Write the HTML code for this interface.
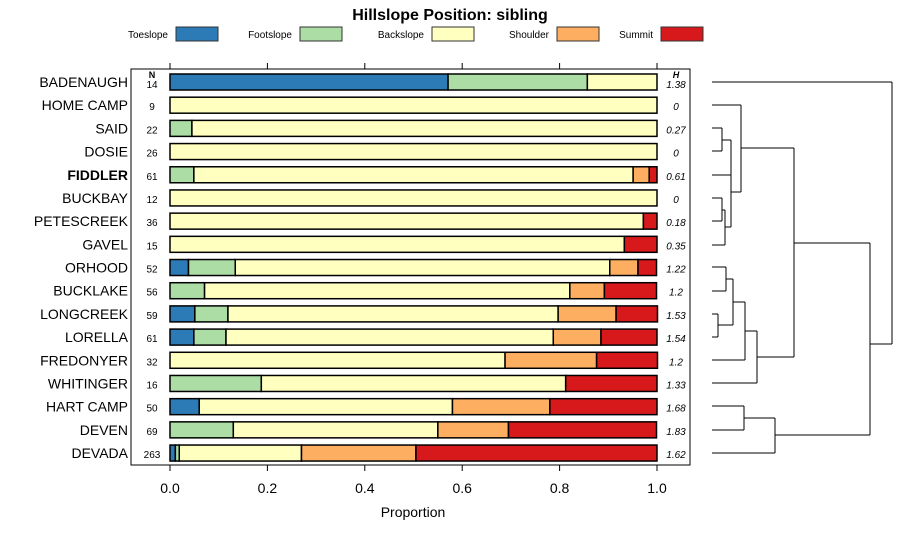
<!DOCTYPE html>
<html><head><meta charset="utf-8"><style>
body{margin:0;background:#fff}
svg{font-family:"Liberation Sans",sans-serif}
</style></head><body>
<svg id="c" width="900" height="540">
<text x="450" y="20" font-size="16" font-weight="bold" text-anchor="middle">Hillslope Position: sibling</text>
<g id="legend"></g>
<rect x="131" y="69" width="559" height="396" fill="none" stroke="#000"/>
<g id="bars"></g>
<g id="axis"></g>
<g id="dend" fill="none" stroke="#000" stroke-width="1"></g>
<text x="413" y="517" font-size="14" text-anchor="middle">Proportion</text>
</svg>
<script>
const categories=["BADENAUGH","HOME CAMP","SAID","DOSIE","FIDDLER","BUCKBAY","PETESCREEK","GAVEL","ORHOOD","BUCKLAKE","LONGCREEK","LORELLA","FREDONYER","WHITINGER","HART CAMP","DEVEN","DEVADA"];
const seriesNames=["Toeslope","Footslope","Backslope","Shoulder","Summit"];
const toeslope=[0.571,0,0,0,0,0,0,0,0.038,0,0.051,0.049,0,0,0.06,0,0.011];
const footslope=[0.286,0,0.045,0,0.049,0,0,0,0.096,0.071,0.068,0.066,0,0.1875,0,0.13,0.008];
const backslope=[0.143,1,0.955,1,0.902,1,0.972,0.933,0.769,0.75,0.678,0.672,0.688,0.625,0.52,0.42,0.251];
const shoulder=[0,0,0,0,0.033,0,0,0,0.058,0.071,0.119,0.098,0.188,0,0.2,0.145,0.235];
const summit=[0,0,0,0,0.016,0,0.028,0.067,0.038,0.107,0.085,0.115,0.125,0.1875,0.22,0.304,0.495];
const nValues=[14,9,22,26,61,12,36,15,52,56,59,61,32,16,50,69,263];
const hValues=["1.38","0","0.27","0","0.61","0","0.18","0.35","1.22","1.2","1.53","1.54","1.2","1.33","1.68","1.83","1.62"];
const tickLabels=["0.0","0.2","0.4","0.6","0.8","1.0"];
const tickValues=[0,0.2,0.4,0.6,0.8,1.0];
const colors=["#2C7BB6","#ABDDA4","#FFFFBF","#FDAE61","#D7191C"];
const NS="http://www.w3.org/2000/svg";
const xs=v=>170+v*487;
const ys=i=>82+i*23.19;
function mk(tag,attrs,parent,txt){const e=document.createElementNS(NS,tag);for(const k in attrs)e.setAttribute(k,attrs[k]);if(txt!==undefined)e.textContent=txt;parent.appendChild(e);return e;}
const series=[toeslope,footslope,backslope,shoulder,summit];
const bars=document.getElementById('bars');
categories.forEach((c,i)=>{
  const y=ys(i);
  const lab=mk('text',{x:128,y:y+5,'font-size':14,'text-anchor':'end','font-weight':c==="FIDDLER"?'bold':'normal'},bars,c);
  
  
  let acc=0;
  series.forEach((s,k)=>{
    const v=s[i]; if(v<=0)return;
    const r=mk('rect',{x:xs(acc),y:y-8,width:xs(acc+v)-xs(acc),height:16,fill:colors[k],stroke:'#000','stroke-width':1.5},bars);
    
    
    acc+=v;
  });
  const n=mk('text',{x:152,y:y+(i===0?6:5),'font-size':10,'text-anchor':'middle'},bars,String(nValues[i]));
  
  
  const h=mk('text',{x:676,y:y+(i===0?6:5),'font-size':10,'text-anchor':'middle','font-style':'italic'},bars,hValues[i]);
  
  
});
const nh=mk('text',{x:152,y:78,'font-size':9,'font-weight':'bold','text-anchor':'middle'},bars,'N');


const hh=mk('text',{x:676,y:78,'font-size':9,'font-weight':'bold','font-style':'italic','text-anchor':'middle'},bars,'H');


const ax=document.getElementById('axis');
tickValues.forEach((t,j)=>{
  const x=xs(t);
  mk('line',{x1:x,x2:x,y1:465,y2:471,stroke:'#000'},ax);
  mk('line',{x1:x,x2:x,y1:63,y2:69,stroke:'#000'},ax);
  const tl=mk('text',{x:x,y:493,'font-size':14,'text-anchor':'middle'},ax,tickLabels[j]);
  
  
});
const lg=document.getElementById('legend');
const lgX=[218,342,474,599,703];
seriesNames.forEach((s,k)=>{
  const t=mk('text',{x:lgX[k]-50,y:38,'font-size':10,'text-anchor':'end'},lg,s);
  
  
  const r=mk('rect',{x:lgX[k]-42,y:27,width:42,height:14,fill:colors[k],stroke:'#333'},lg);
  
  
});
const d=document.getElementById('dend');
const segs=[
[712,82,892,82],[892,82,892,344],[870,344,892,344],
[870,243,870,435],[794,243,870,243],[775,435,870,435],
[794,148,794,357],[741,148,794,148],[757,357,794,357],
[741,105,741,192],[712,105,741,105],[731,192,741,192],
[731,140,731,227],[722,128,722,151],[712,128,722,128],[712,151,722,151],
[722,140,731,140],[712,175,731,175],
[725,227,731,227],[725,210,725,245],[712,245,725,245],
[722,198,722,221],[712,198,722,198],[712,221,722,221],[722,210,725,210],
[757,331,757,383],[712,383,757,383],[745,331,757,331],
[745,302,745,360],[712,360,745,360],[733,302,745,302],
[733,279,733,325],[726,279,733,279],[718,325,733,325],
[726,267,726,291],[712,267,726,267],[712,291,726,291],
[718,314,718,337],[712,314,718,314],[712,337,718,337],
[775,418,775,453],[712,453,775,453],[744,418,775,418],
[744,406,744,430],[712,406,744,406],[712,430,744,430]];
segs.forEach(s=>{const l=mk('line',{x1:s[0],y1:s[1],x2:s[2],y2:s[3]},d);});
</script>
</body></html>
